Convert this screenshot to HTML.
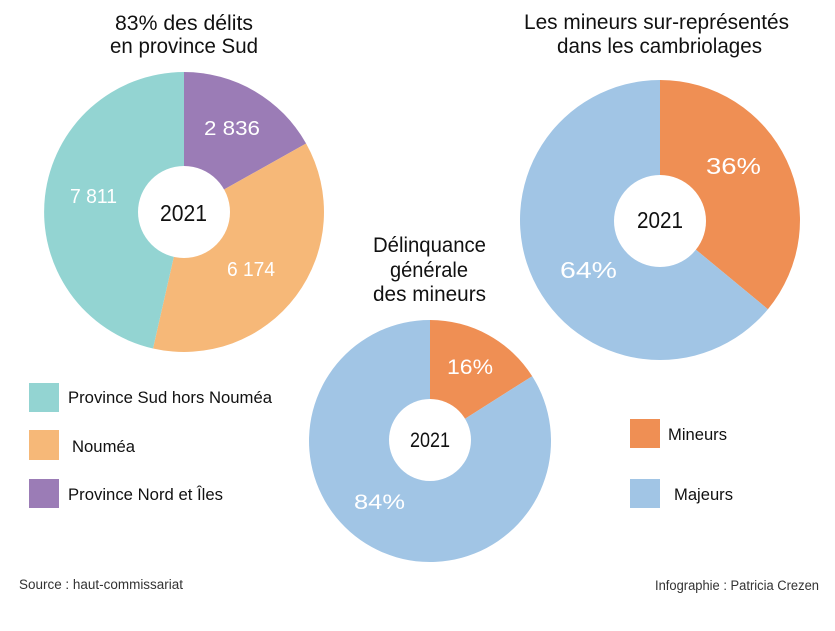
<!DOCTYPE html>
<html>
<head>
<meta charset="utf-8">
<style>
  html,body{margin:0;padding:0;background:#fff;}
  svg{display:block;}
  text{font-family:"Liberation Sans", sans-serif;}
</style>
</head>
<body>
<svg width="835" height="631" viewBox="0 0 835 631" xmlns="http://www.w3.org/2000/svg">
  <rect width="835" height="631" fill="#ffffff"/>

  <!-- Chart 1 titles -->
  <g fill="#111" font-size="21">
    <text x="115" y="30" textLength="138" lengthAdjust="spacingAndGlyphs">83% des délits</text>
    <text x="110" y="53" textLength="148" lengthAdjust="spacingAndGlyphs">en province Sud</text>
  </g>

  <!-- Chart 1 donut -->
  <path d="M184,212 L184,72 A140,140 0 0 1 306.1,143.5 Z" fill="#9b7cb6"/>
  <path d="M184,212 L306.1,143.5 A140,140 0 0 1 153.0,348.5 Z" fill="#f6b878"/>
  <path d="M184,212 L153.0,348.5 A140,140 0 0 1 184,72 Z" fill="#93d4d2"/>
  <circle cx="184" cy="212" r="46" fill="#fff"/>
  <g fill="#fff" font-size="20">
    <text x="204" y="135" textLength="56" lengthAdjust="spacingAndGlyphs">2 836</text>
    <text x="70" y="203" textLength="47" lengthAdjust="spacingAndGlyphs">7 811</text>
    <text x="227" y="276" textLength="48" lengthAdjust="spacingAndGlyphs">6 174</text>
  </g>
  <text x="160" y="221" font-size="23" fill="#111" textLength="47" lengthAdjust="spacingAndGlyphs">2021</text>

  <!-- Chart 3 titles -->
  <g fill="#111" font-size="21">
    <text x="524" y="29" textLength="265" lengthAdjust="spacingAndGlyphs">Les mineurs sur-représentés</text>
    <text x="557" y="53" textLength="205" lengthAdjust="spacingAndGlyphs">dans les cambriolages</text>
  </g>

  <!-- Chart 3 donut -->
  <path d="M660,220 L660,80 A140,140 0 0 1 767.9,309.2 Z" fill="#ef8f54"/>
  <path d="M660,220 L767.9,309.2 A140,140 0 1 1 660,80 Z" fill="#a1c5e5"/>
  <circle cx="660" cy="221" r="46" fill="#fff"/>
  <g fill="#fff" font-size="23">
    <text x="706" y="174" textLength="55" lengthAdjust="spacingAndGlyphs">36%</text>
    <text x="560" y="278" textLength="57" lengthAdjust="spacingAndGlyphs">64%</text>
  </g>
  <text x="637" y="228" font-size="23" fill="#111" textLength="46" lengthAdjust="spacingAndGlyphs">2021</text>

  <!-- Chart 2 titles -->
  <g fill="#111" font-size="21">
    <text x="373" y="252" textLength="113" lengthAdjust="spacingAndGlyphs">Délinquance</text>
    <text x="390" y="277" textLength="78" lengthAdjust="spacingAndGlyphs">générale</text>
    <text x="373" y="301" textLength="113" lengthAdjust="spacingAndGlyphs">des mineurs</text>
  </g>

  <!-- Chart 2 donut -->
  <path d="M430,441 L430,320 A121,121 0 0 1 532.2,376.2 Z" fill="#ef8f54"/>
  <path d="M430,441 L532.2,376.2 A121,121 0 1 1 430,320 Z" fill="#a1c5e5"/>
  <circle cx="430" cy="440" r="41" fill="#fff"/>
  <g fill="#fff" font-size="21">
    <text x="447" y="374" textLength="46" lengthAdjust="spacingAndGlyphs">16%</text>
    <text x="354" y="509" textLength="51" lengthAdjust="spacingAndGlyphs">84%</text>
  </g>
  <text x="410" y="447" font-size="21" fill="#111" textLength="40" lengthAdjust="spacingAndGlyphs">2021</text>

  <!-- Legend 1 -->
  <rect x="29" y="383" width="30" height="29" fill="#93d4d2"/>
  <rect x="29" y="430" width="30" height="30" fill="#f6b878"/>
  <rect x="29" y="479" width="30" height="29" fill="#9b7cb6"/>
  <g fill="#111" font-size="17">
    <text x="68" y="403" textLength="204" lengthAdjust="spacingAndGlyphs">Province Sud hors Nouméa</text>
    <text x="72" y="452" textLength="63" lengthAdjust="spacingAndGlyphs">Nouméa</text>
    <text x="68" y="500" textLength="155" lengthAdjust="spacingAndGlyphs">Province Nord et Îles</text>
  </g>

  <!-- Legend 2 -->
  <rect x="630" y="419" width="30" height="29" fill="#ef8f54"/>
  <rect x="630" y="479" width="30" height="29" fill="#a1c5e5"/>
  <g fill="#111" font-size="17">
    <text x="668" y="440" textLength="59" lengthAdjust="spacingAndGlyphs">Mineurs</text>
    <text x="674" y="500" textLength="59" lengthAdjust="spacingAndGlyphs">Majeurs</text>
  </g>

  <!-- Footer -->
  <g fill="#333" font-size="13.5">
    <text x="19" y="589" textLength="164" lengthAdjust="spacingAndGlyphs">Source : haut-commissariat</text>
    <text x="655" y="590" textLength="164" lengthAdjust="spacingAndGlyphs">Infographie : Patricia Crezen</text>
  </g>
</svg>
</body>
</html>
